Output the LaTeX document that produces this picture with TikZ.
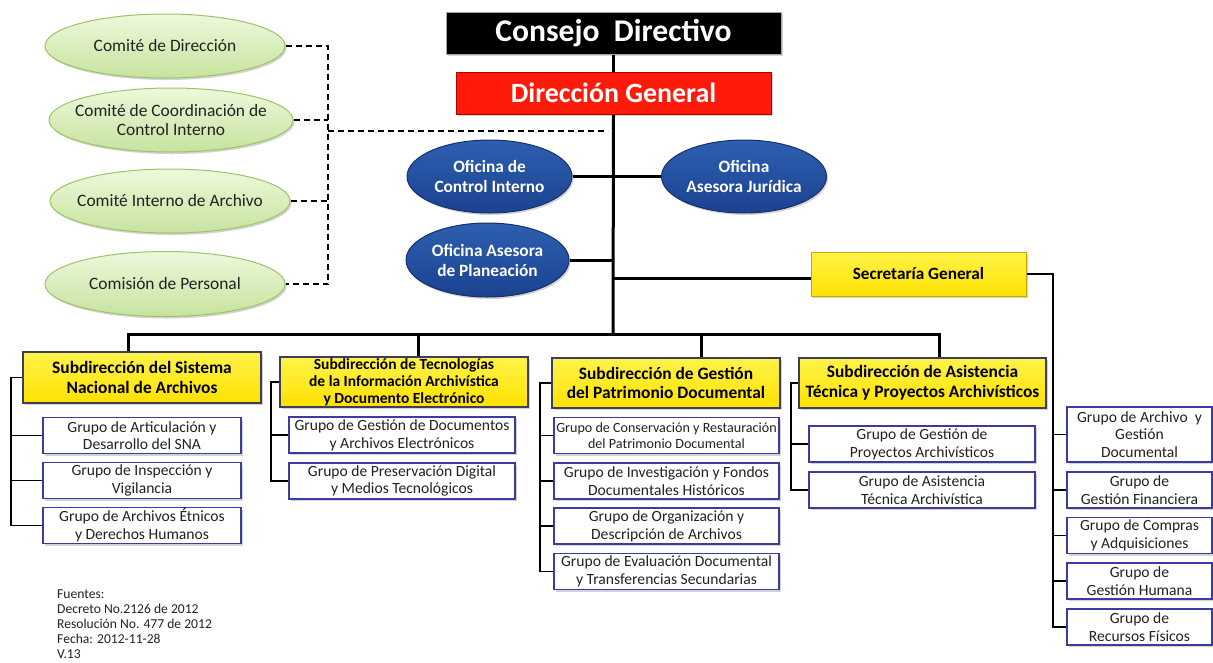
\documentclass[tikz,border=0pt]{standalone}
\usepackage{fontspec}
\setmainfont{Carlito}
\usetikzlibrary{shapes.geometric,shadows,calc}
\definecolor{gfill1}{HTML}{EEF8DC}
\definecolor{gfill2}{HTML}{C6E39E}
\definecolor{gdraw}{HTML}{9CC466}
\definecolor{bfill1}{HTML}{2E5FB0}
\definecolor{bfill2}{HTML}{1B4290}
\definecolor{bdraw}{HTML}{16306A}
\definecolor{yfill1}{HTML}{FFF34A}
\definecolor{yfill2}{HTML}{FFE100}
\definecolor{ydraw}{HTML}{3E3E5C}
\definecolor{sgdraw}{HTML}{C8A800}
\definecolor{grpdraw}{HTML}{3B3BA0}
\definecolor{redfill}{HTML}{FF1A0A}
\definecolor{txtgray}{HTML}{222222}
\tikzset{
  shad/.style={drop shadow={shadow xshift=1.5pt,shadow yshift=-2pt,opacity=0.35}},
  topbox/.style={rectangle,inner sep=0pt,text=white,font=\bfseries,shad},
  comite/.style={ellipse,inner sep=0pt,top color=gfill1,bottom color=gfill2,draw=gdraw,line width=1pt,shad},
  comitetxt/.style={inner sep=0pt,align=center,text=txtgray,font=\fontsize{17.4}{19}\selectfont},
  oficina/.style={ellipse,inner sep=0pt,top color=bfill1,bottom color=bfill2,draw=bdraw,line width=1pt,
    minimum width=165,minimum height=73,shad},
  oficinatxt/.style={inner sep=0pt,align=center,text=white,font=\fontsize{17.3}{20}\selectfont\bfseries},
  subbox/.style={rectangle,inner sep=0pt,top color=yfill1,bottom color=yfill2,draw=ydraw,line width=1.5pt,
    align=center,text=black,font=\fontsize{17.4}{19.5}\selectfont\bfseries,minimum height=50,shad},
  grupo/.style={rectangle,inner sep=0pt,fill=white,draw=grpdraw,line width=1.2pt,align=center,
    text=txtgray,font=\fontsize{15.6}{17.7}\selectfont,minimum height=36,shad},
  trunk/.style={line width=3pt,black},
  br/.style={line width=1.5pt,black},
  dsh/.style={line width=1.3pt,black,dash pattern=on 6pt off 4pt}
}
\begin{document}
\begin{tikzpicture}[x=1pt,y=-1pt]
\useasboundingbox (0,0) rectangle (1213,662);
% top boxes
\node[topbox,fill=black,draw=gray!70,line width=1pt,minimum width=335,minimum height=42,font=\fontsize{31.6}{34}\selectfont\bfseries] (cd) at (613.5,33) {Consejo\ \ Directivo};
\node[topbox,fill=redfill,draw=red!70!black,line width=1pt,minimum width=315,minimum height=42,font=\fontsize{27.9}{30}\selectfont\bfseries] (dg) at (613.5,93) {Dirección General};
% committees
\node[comite,minimum width=240,minimum height=64,label={[comitetxt]center:Comité de Dirección}] (c1) at (165,46) {};
\node[comite,minimum width=244,minimum height=64,label={[comitetxt]center:{Comité de Coordinación de\\Control Interno}}] (c2) at (171,120) {};
\node[comite,minimum width=240,minimum height=64,label={[comitetxt]center:Comité Interno de Archivo}] (c3) at (170,201) {};
\node[comite,minimum width=240,minimum height=65,label={[comitetxt]center:Comisión de Personal}] (c4) at (165,284) {};
% offices
\node[oficina,label={[oficinatxt]center:{Oficina de\\Control Interno}}] (oci) at (489.5,176.5) {};
\node[oficina,label={[oficinatxt]center:{Oficina\\Asesora Jurídica}}] (oaj) at (744,176.5) {};
\node[oficina,minimum width=163,minimum height=74,label={[oficinatxt]center:{Oficina Asesora\\de Planeación}}] (oap) at (487.5,260) {};
% secretaria
\node[subbox,draw=sgdraw,line width=1pt,minimum width=215,minimum height=44,font=\fontsize{17.2}{19}\selectfont\bfseries] (sg) at (918.5,274) {Secretaría General};
% subdirecciones
\node[subbox,minimum width=238,minimum height=51] (s1) at (142,377.5) {Subdirección del Sistema\\Nacional de Archivos};
\node[subbox,minimum width=248,font=\fontsize{15.5}{17}\selectfont\bfseries] (s2) at (404,382) {Subdirección de Tecnologías\\de la Información Archivística\\y Documento Electrónico};
\node[subbox,minimum width=228] (s3) at (666,383) {Subdirección de Gestión\\del Patrimonio Documental};
\node[subbox,minimum width=247] (s4) at (922.5,383) {Subdirección de Asistencia\\Técnica y Proyectos Archivísticos};
% grupos s1
\node[grupo,minimum width=198] (g11) at (142,435.5) {Grupo de Articulación y\\Desarrollo del SNA};
\node[grupo,minimum width=198] (g12) at (142,480.5) {Grupo de Inspección y\\Vigilancia};
\node[grupo,minimum width=198] (g13) at (142,525.5) {Grupo de Archivos Étnicos\\y Derechos Humanos};
% grupos s2
\node[grupo,minimum width=226] (g21) at (402,435) {Grupo de Gestión de Documentos\\y Archivos Electrónicos};
\node[grupo,minimum width=226] (g22) at (402,481) {Grupo de Preservación Digital\\y Medios Tecnológicos};
% grupos s3
\node[grupo,minimum width=225,font=\fontsize{14.1}{16.5}\selectfont] (g31) at (666.5,435.5) {Grupo de Conservación y Restauración\\del Patrimonio Documental};
\node[grupo,minimum width=225] (g32) at (666.5,481) {Grupo de Investigación y Fondos\\Documentales Históricos};
\node[grupo,minimum width=225] (g33) at (666.5,526) {Grupo de Organización y\\Descripción de Archivos};
\node[grupo,minimum width=225] (g34) at (666.5,571.5) {Grupo de Evaluación Documental\\y Transferencias Secundarias};
% grupos s4
\node[grupo,minimum width=226] (g41) at (922,444) {Grupo de Gestión de\\Proyectos Archivísticos};
\node[grupo,minimum width=226] (g42) at (922,490) {Grupo de Asistencia\\Técnica Archivística};
% grupos secretaria
\node[grupo,minimum width=145,minimum height=55] (g51) at (1139.5,434.5) {Grupo de Archivo\ \ y\\Gestión\\Documental};
\node[grupo,minimum width=145] (g52) at (1139.5,490) {Grupo de\\Gestión Financiera};
\node[grupo,minimum width=145] (g53) at (1139.5,535.5) {Grupo de Compras\\y Adquisiciones};
\node[grupo,minimum width=145] (g54) at (1139.5,581) {Grupo de\\Gestión Humana};
\node[grupo,minimum width=145] (g55) at (1139.5,627) {Grupo de\\Recursos Físicos};
% footer
\node[anchor=north west,inner sep=0pt,align=left,text=txtgray,font=\fontsize{13.6}{14.9}\selectfont] (src) at (57,589.5) {Fuentes:\\Decreto No.2126 de 2012\\Resolución No. 477 de 2012\\Fecha: 2012-11-28\\V.13};
% coordinates
\coordinate (bar) at (613,334);
\coordinate (b1) at (128,334);
\coordinate (b2) at (418,334);
\coordinate (b3) at (701,334);
\coordinate (b4) at (939,334);
\coordinate (kd) at (328,0);
\coordinate (dend) at (608,131);
\coordinate (k1) at (11,0);
\coordinate (k2) at (271,0);
\coordinate (k3) at (540,0);
\coordinate (k4) at (791,0);
\coordinate (k5) at (1053,0);
% trunk connectors
\draw[trunk] (cd.south) -- (dg.north);
\draw[trunk] (dg.south) -- (bar);
\draw[trunk] (oci.east) -- (oaj.west);
\draw[trunk] (oap.east) -- (oap.east -| bar);
\draw[trunk] ([yshift=-4pt]sg.west) -- ([yshift=-4pt]sg.west -| bar);
\draw[trunk] (s1.north -| b1) -- (b1) -- (b4) -- (s4.north -| b4);
\draw[trunk] (b2) -- (s2.north -| b2);
\draw[trunk] (b3) -- (s3.north -| b3);
% dashed committees
\draw[dsh] (c1.east) -- (c1.east -| kd) -- (c4.east -| kd) -- (c4.east);
\draw[dsh] (c2.east) -- (c2.east -| kd);
\draw[dsh] (c3.east) -- (c3.east -| kd);
\draw[dsh] (dend -| kd) -- (dend);
% brackets
\draw[br] (s1.west) -- (s1.west -| k1) |- (g13.west);
\draw[br] (g11.west -| k1) -- (g11.west);
\draw[br] (g12.west -| k1) -- (g12.west);
\draw[br] (s2.west) -- (s2.west -| k2) |- (g22.west);
\draw[br] (g21.west -| k2) -- (g21.west);
\draw[br] (s3.west) -- (s3.west -| k3) |- (g34.west);
\draw[br] (g31.west -| k3) -- (g31.west);
\draw[br] (g32.west -| k3) -- (g32.west);
\draw[br] (g33.west -| k3) -- (g33.west);
\draw[br] (s4.west) -- (s4.west -| k4) |- (g42.west);
\draw[br] (g41.west -| k4) -- (g41.west);
\draw[br] (sg.east) -- (sg.east -| k5) |- (g55.west);
\draw[br] (g51.west -| k5) -- (g51.west);
\draw[br] (g52.west -| k5) -- (g52.west);
\draw[br] (g53.west -| k5) -- (g53.west);
\draw[br] (g54.west -| k5) -- (g54.west);
\end{tikzpicture}
\end{document}
